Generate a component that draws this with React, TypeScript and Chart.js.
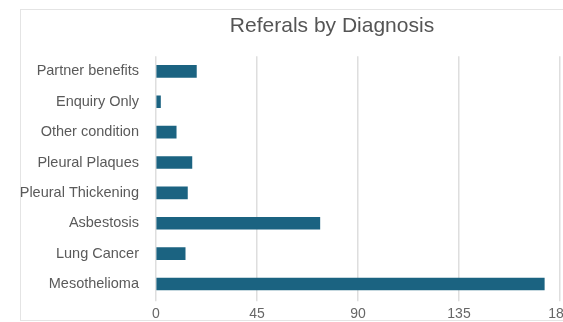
import React, { useEffect, useRef } from "react";
import { Chart, registerables } from "chart.js";

Chart.register(...registerables);

const categories = [
  "Partner benefits",
  "Enquiry Only",
  "Other condition",
  "Pleural Plaques",
  "Pleural Thickening",
  "Asbestosis",
  "Lung Cancer",
  "Mesothelioma",
];
const referrals = [18, 2, 9, 16, 14, 73, 13, 173];
const xTicks = [0, 45, 90, 135, 180];
const titleText = "Referals by Diagnosis";

const FONT = "'Liberation Sans', Arial, Helvetica, sans-serif";

export default function App() {
  const ref = useRef<HTMLCanvasElement | null>(null);

  useEffect(() => {
    if (!ref.current) return;
    const chart = new Chart(ref.current, {
      type: "bar",
      data: {
        labels: categories,
        datasets: [
          {
            label: "Referrals",
            data: referrals,
            backgroundColor: "#1b6381",
            barThickness: 12,
          },
        ],
      },
      options: {
        indexAxis: "y",
        animation: false,
        responsive: false,
        maintainAspectRatio: false,
        layout: { padding: { left: 84, right: 84, top: 0, bottom: 0 } },
        plugins: {
          legend: { display: false },
          tooltip: { enabled: false },
          title: {
            display: true,
            text: titleText,
            color: "#555555",
            font: { family: FONT, size: 21, weight: "normal" },
            padding: { top: 5, bottom: 17 },
          },
        },
        scales: {
          x: {
            min: xTicks[0],
            max: xTicks[xTicks.length - 1],
            afterBuildTicks: (scale: any) => {
              scale.ticks = xTicks.map((v) => ({ value: v }));
            },
            grid: {
              color: "#dedede",
              lineWidth: 1.5,
              drawTicks: true,
              tickLength: 2,
            },
            border: { display: false },
            ticks: {
              color: "#666666",
              font: { family: FONT, size: 14 },
              padding: 5,
              maxRotation: 0,
            },
          },
          y: {
            grid: { display: false, drawTicks: false },
            border: { display: false },
            afterFit: (scale: any) => {
              scale.width = 52;
            },
            afterUpdate: (scale: any) => {
              scale._computeLabelArea = () => undefined;
            },
            ticks: {
              color: "#5a5a5a",
              font: { family: FONT, size: 14.5 },
              padding: 17,
            },
          },
        },
      },
    });
    return () => chart.destroy();
  }, []);

  return (
    <div
      style={{
        position: "fixed",
        left: 0,
        top: 0,
        width: 563,
        height: 322,
        overflow: "hidden",
        background: "#ffffff",
      }}
    >
      <div
        style={{
          position: "absolute",
          left: 20,
          top: 9,
          width: 700,
          height: 312,
          boxSizing: "border-box",
          border: "1px solid #e4e4e4",
        }}
      />
      <canvas
        ref={ref}
        width={624}
        height={319}
        style={{ position: "absolute", left: 20, top: 9, width: 624, height: 319 }}
      />
    </div>
  );
}
